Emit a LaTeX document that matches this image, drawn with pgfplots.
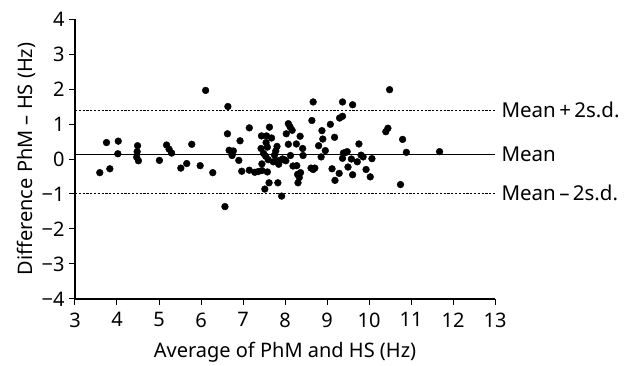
\documentclass[border=0pt]{standalone}
\usepackage{fontspec}
\setmainfont{Noto Sans}
\usepackage{pgfplots}
\pgfplotsset{compat=1.18}
\usetikzlibrary{calc}
\begin{document}
\begin{tikzpicture}
\begin{axis}[
  scale only axis, width=420pt, height=280pt,
  xmin=3, xmax=13, ymin=-4, ymax=4,
  axis x line*=bottom, axis y line*=left,
  axis line style={line width=1.1pt,-},
  xtick={3,...,13}, ytick={-4,...,4},
  yticklabels={−4,−3,−2,−1,0,1,2,3,4},
  tick align=outside, major tick length=6pt,
  tick style={line width=1pt,black},
  tick label style={font=\fontsize{20}{24}\selectfont},
  xticklabel style={yshift=-4pt},
  yticklabel style={xshift=-1pt},
  /pgf/number format/assume math mode=true,
  label style={font=\fontsize{20}{24}\selectfont},
  xlabel={Average of PhM and HS (Hz)},
  ylabel={Difference PhM – HS (Hz)},
  xlabel style={yshift=-8pt},
  ylabel style={yshift=-1pt},
  clip=false,
]
\addplot[only marks, mark=*, mark size=3.4pt, black] table {
x y
3.59 -0.39
3.75 0.47
3.83 -0.28
4.03 0.51
4.02 0.15
4.49 0.38
4.48 0.21
4.47 0.05
4.51 -0.05
5.01 -0.04
5.18 0.40
5.24 0.28
5.30 0.17
5.52 -0.26
5.66 -0.13
5.78 0.42
5.98 -0.19
6.11 1.96
6.28 -0.39
6.57 -1.36
6.64 1.50
6.63 0.72
6.67 0.25
6.77 0.23
6.74 0.10
6.90 -0.04
6.93 0.52
6.97 -0.35
7.15 0.89
7.15 -0.32
7.28 -0.38
7.36 -0.36
7.45 -0.33
7.45 -0.14
7.44 0.66
7.43 0.30
7.49 0.16
7.52 -0.86
7.55 0.47
7.56 0.66
7.58 0.34
7.54 0.08
7.58 -0.37
7.60 -0.02
7.62 -0.68
7.63 0.91
7.68 0.60
7.72 -0.08
7.75 0.11
7.78 0.23
7.81 0.36
7.80 -0.05
7.83 -0.68
7.85 -0.15
7.88 -0.04
7.92 -1.06
7.94 0.00
7.98 -0.02
8.02 -0.05
8.03 0.72
8.08 1.01
8.08 0.42
8.12 0.92
8.13 0.10
8.17 0.82
8.19 -0.20
8.28 -0.19
8.27 0.43
8.30 -0.44
8.34 -0.53
8.31 -0.68
8.36 0.65
8.37 -0.39
8.42 0.30
8.43 0.10
8.62 -0.26
8.64 1.10
8.67 1.63
8.67 -0.30
8.71 -0.26
8.80 0.38
8.86 0.06
8.88 0.81
8.90 0.57
8.96 0.24
9.08 0.99
9.12 -0.28
9.18 0.62
9.19 -0.61
9.29 -0.41
9.30 1.17
9.37 1.22
9.37 1.63
9.37 0.02
9.39 0.17
9.45 0.19
9.48 0.21
9.50 -0.23
9.58 0.00
9.61 -0.45
9.61 1.55
9.72 -0.08
9.76 0.43
9.81 0.11
9.86 0.06
9.93 -0.30
10.03 -0.51
10.07 0.01
10.40 0.78
10.45 0.88
10.49 1.98
10.75 -0.73
10.80 0.56
10.89 0.19
11.68 0.21
};
\addplot[black, line width=1pt] coordinates {(3,0.14) (13,0.14)};
\addplot[black, line width=0.8pt, dash pattern=on 2.2pt off 1.6pt] coordinates {(3,1.40) (13,1.40)};
\addplot[black, line width=0.8pt, dash pattern=on 2.2pt off 1.6pt] coordinates {(3,-0.97) (13,-0.97)};
\node[anchor=west, font=\fontsize{20.5}{24}\selectfont, xshift=3pt] at (axis cs:13,1.40) {Mean\,+\,2s.d.};
\node[anchor=west, font=\fontsize{20.5}{24}\selectfont, xshift=3pt] at (axis cs:13,0.14) {Mean};
\node[anchor=west, font=\fontsize{20.5}{24}\selectfont, xshift=3pt] at (axis cs:13,-0.97) {Mean\,–\,2s.d.};
\coordinate (sw) at (rel axis cs:0,0);
\coordinate (ne) at (rel axis cs:1,1);
\end{axis}
\pgfresetboundingbox
\path ($(sw)+(-75pt,-67pt)$) rectangle ($(ne)+(131pt,19pt)$);
\end{tikzpicture}
\end{document}
